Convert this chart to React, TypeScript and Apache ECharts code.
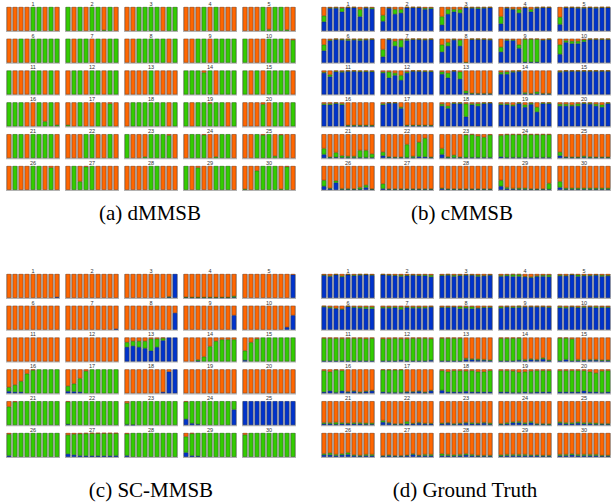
import React, { useEffect, useRef } from 'react';
import * as echarts from 'echarts';

// ---------- data ----------
const BARS = ['1', '2', '3', '4', '5', '6', '7', '8', '9'];
const SUB_LABELS = ['1','2','3','4','5','6','7','8','9','10','11','12','13','14','15','16','17','18','19','20','21','22','23','24','25','26','27','28','29','30'];
const CAPTIONS = ['(a) dMMSB', '(b) cMMSB', '(c) SC-MMSB', '(d) Ground Truth'];

// fractions per bar; stacking order bottom→top: blue, green, orange (orange = remainder)
// (a) dMMSB
const aBlue: number[][] = [];
const aGreen: number[][] = [
  [0,0,0,0,1,1,0,1,0],
  [1,0,1,0,1,1,0.03,1,0],
  [0,0,1,1,1,1,0,1,1],
  [0,0,0,1,0,1,0,0,0],
  [0,0,0,1,0.06,1,1,0.04,0],
  [0,0,1,0,1,1,1,1,1],
  [1,0,1,1,0,1,0,1,1],
  [0,0,1,1,1,1,1,0,1],
  [0,0,1,1,0,1,1,1,1],
  [1,0,0,0,1,1,1,0,0.95],
  [1,0,0,0,1,1,0,1,0],
  [0,1,1,0,1,1,0,1,1],
  [0,0,0,0,1,0,0,0,0],
  [1,1,1,0.92,1,0,1,1,1],
  [1,0,1,0,1,1,1,1,0],
  [1,1,1,0,0,1,0.2,1,0.05],
  [0.05,0,1,0,0,1,0,0.95,0],
  [0,1,1,1,1,1,1,0,1],
  [1,0,1,1,0.96,1,1,0,1],
  [0,0,0,0.92,0,1,1,0,1],
  [0,1,1,0,1,1,1,1,0],
  [0,0,0,1,1,0,0,1,0],
  [1,0,0,0.05,1,1,1,0.95,0],
  [0,1,1,0.97,0,0.05,1,1,0],
  [0,0,1,0.96,1,0.08,0.97,0,0],
  [0,1,0,0,1,1,0,0.93,0],
  [0,1,0.35,0.97,1,0,0,0,0],
  [0,0,0,0,1,1,0,0,0],
  [1,0,0.93,0,0,1,1,1,0],
  [0.03,0,0.8,1,1,1,0.03,0.97,0],
];

// (b) cMMSB
const bBlue: number[][] = [
  [0.38,0.95,0.95,0.8,0.97,0.97,0.6,0.96,0.92],
  [0.4,0.95,0.7,0.75,0.97,0.97,0.97,0.9,0.93],
  [0.25,0.7,0.8,0.75,0.97,0.95,0.93,0.95,0.97],
  [0.3,0.95,0.9,0.75,0.97,0.8,0.95,0.97,0.97],
  [0.27,0.97,0.97,0.95,0.95,0.97,0.95,0.97,0.97],
  [0.5,0.93,0.97,0.95,0.93,0.95,0.93,0.95,0.97],
  [0.25,0.97,0.7,0.65,0.93,0.97,0.97,0.95,0.97],
  [0.45,0.7,0.95,0.7,0,0.97,0.97,0.97,0.95],
  [0.45,0.93,0.93,0.6,0.02,0.02,0.02,0.95,0.97],
  [0.35,0.85,0.8,0.8,0.88,0.97,0.97,0.97,0.97],
  [0.9,0.75,0.95,0.93,0.97,0.97,0.95,0.95,0.95],
  [0.9,0.7,0.8,0.6,0.9,0.98,0.97,0.95,0.95],
  [0.85,0.7,0.98,0.65,0.05,0.02,0.02,0.02,0.02],
  [0.85,0.85,0.93,0.97,0.03,0.02,0.03,0.02,0.02],
  [0.93,0.98,0.98,0.98,0.98,0.98,0.98,0.98,0.98],
  [0.9,0.9,0.95,0.9,0.01,0.01,0.01,0.01,0.01],
  [0.9,0.97,0.97,0.75,0.02,0.02,0.02,0.02,0.02],
  [0.85,0.75,0.95,0.95,0.4,0.9,0.85,0.95,0.97],
  [0.9,0.9,0.85,0.95,0.8,0.92,0.6,0.95,0.95],
  [0.85,0.85,0.85,0.85,0.95,0.93,0.85,0.8,0.95],
  [0.15,0.02,0.03,0.02,0.02,0.02,0.02,0.02,0.02],
  [0.1,0.03,0.02,0.02,0.02,0.02,0.06,0.05,0.02],
  [0.15,0.02,0.02,0.02,0.02,0.02,0.02,0.02,0.02],
  [0.05,0.02,0.02,0.02,0.02,0.02,0.02,0.02,0.02],
  [0.1,0.03,0.02,0.02,0.03,0.02,0.02,0.02,0.02],
  [0.15,0.05,0.3,0.02,0.02,0.02,0.02,0.1,0.02],
  [0.05,0.02,0.02,0.02,0.02,0.02,0.02,0.02,0.02],
  [0.05,0.02,0.02,0.02,0.02,0.02,0.02,0.02,0.02],
  [0.15,0.05,0.03,0.02,0.02,0.02,0.02,0.02,0.02],
  [0.1,0.02,0.02,0.02,0.02,0.02,0.02,0.02,0.02],
];
const bGreen: number[][] = [
  [0.25,0.02,0.03,0.15,0.02,0.02,0.3,0.02,0.05],
  [0.25,0.02,0.2,0.15,0.02,0.02,0.02,0.05,0.04],
  [0.35,0.2,0.1,0.15,0.02,0.03,0.05,0.03,0.02],
  [0.3,0.02,0.02,0.15,0.02,0.1,0.03,0.02,0.02],
  [0.3,0.02,0.02,0.03,0.03,0.02,0.03,0.02,0.02],
  [0.25,0.03,0.02,0.03,0.05,0.03,0.05,0.03,0.02],
  [0.3,0.02,0.2,0.3,0.05,0.02,0.02,0.03,0.02],
  [0.3,0.15,0.03,0.25,0.01,0.02,0.02,0.02,0.03],
  [0.2,0.03,0.03,0.15,0.97,0.97,0.97,0.01,0.02],
  [0.4,0.08,0.1,0.1,0.08,0.02,0.02,0.02,0.02],
  [0.03,0.08,0.03,0.04,0.02,0.02,0.03,0.03,0.03],
  [0.05,0.25,0.1,0.2,0.05,0.01,0.02,0.03,0.03],
  [0.1,0.2,0.01,0.3,0.1,0.03,0.02,0.02,0.02],
  [0.08,0.1,0.04,0.02,0.05,0.02,0.08,0.02,0.02],
  [0.04,0.01,0.01,0.01,0.01,0.01,0.01,0.01,0.01],
  [0.05,0.05,0.03,0.05,0.03,0.03,0.03,0.03,0.03],
  [0.05,0.02,0.02,0.05,0.02,0.02,0.02,0.02,0.02],
  [0.08,0.1,0.03,0.03,0.55,0.05,0.1,0.03,0.02],
  [0.05,0.05,0.05,0.03,0.1,0.05,0.2,0.03,0.03],
  [0.08,0.08,0.05,0.1,0.03,0.04,0.08,0.1,0.03],
  [0.25,0.02,0.2,0.08,0.05,0.05,0.3,0.3,0.15],
  [0.15,0.02,0.02,0.02,0.55,0.05,0.6,0.78,0.02],
  [0.25,0.03,0.1,0.02,0.95,0.97,0.9,0.85,0.95],
  [0.9,0.97,0.97,0.97,0.97,0.97,0.97,0.97,0.97],
  [0.15,0.02,0.02,0.02,0.05,0.03,0.02,0.02,0.02],
  [0.25,0.02,0.08,0.03,0.03,0.02,0.08,0.1,0.02],
  [0.2,0.02,0.02,0.02,0.02,0.02,0.02,0.02,0.02],
  [0.02,0.02,0.02,0.02,0.02,0.02,0.02,0.02,0.02],
  [0.25,0.05,0.03,0.05,0.05,0.02,0.02,0.02,0.25],
  [0.25,0.05,0.05,0.05,0.05,0.05,0.05,0.05,0.05],
];

// (c) SC-MMSB
const cBlue: number[][] = [
  [0,0,0,0,0,0,0,0,0.03],
  [0,0,0,0,0,0,0,0,0],
  [0,0,0,0,0,0,0,0.03,1],
  [0.02,0.01,0.01,0.01,0.01,0.01,0.01,0.01,0.02],
  [0,0,0,0,0,0,0,0,0.97],
  [0,0,0,0,0,0,0,0,0],
  [0,0,0,0,0,0,0,0,0.03],
  [0,0,0,0,0,0,0,0,0.7],
  [0,0,0,0,0,0,0,0,0.6],
  [0,0,0,0,0,0,0,0.1,0.6],
  [0,0,0,0,0,0,0,0,0],
  [0,0,0,0,0,0,0,0,0],
  [0.6,0.65,0.6,0.55,0.45,0.6,0.88,1,1],
  [0,0,0.02,0,0,0,0,0,0],
  [0.05,0,0,0,0,0,0,0,0],
  [0.08,0.05,0.05,0,0,0,0,0,0],
  [0.08,0.07,0.05,0,0,0,0,0,0],
  [0,0,0,0,0,0,0.05,0.9,1],
  [0,0,0,0,0,0,0,0,0],
  [0,0,0,0,0,0,0,0,0],
  [0,0,0,0,0,0,0,0,0],
  [0.03,0,0,0,0,0,0,0,0],
  [0.02,0.01,0,0,0,0,0,0,0],
  [0.25,0.07,0.03,0,0,0,0,0,0.65],
  [1,1,1,1,1,1,1,1,1],
  [0.05,0,0,0,0,0,0,0,0],
  [0.12,0.08,0.05,0.04,0.04,0.04,0.04,0.04,0.05],
  [0.05,0,0,0,0,0,0,0,0],
  [0.18,0.05,0.03,0,0,0,0,0,0],
  [0,0,0,0,0,0,0,0,0],
];
const cGreen: number[][] = [
  [0,0,0,0,0,0,0,0,0],
  [0,0,0,0,0,0,0,0,0],
  [0,0,0,0,0,0,0,0.02,0],
  [0.01,0.01,0.01,0.01,0.01,0.01,0.01,0.01,0.05],
  [0,0,0,0,0,0,0,0,0],
  [0,0,0,0,0,0,0,0,0],
  [0,0,0,0,0,0,0,0,0],
  [0,0,0,0,0,0,0,0,0],
  [0,0,0,0,0,0,0,0,0],
  [0,0,0,0,0,0,0,0,0],
  [0,0,0,0,0,0,0,0,0],
  [0,0,0,0,0,0,0,0,0],
  [0.2,0.2,0.25,0.3,0.5,0.35,0.1,0,0],
  [0,0,0.05,0.2,0.63,0.85,0.92,0.92,0.92],
  [0.4,0.8,0.95,1,1,1,1,1,1],
  [0.17,0.3,0.45,0.82,0.97,1,1,1,1],
  [0.22,0.33,0.57,0.93,1,1,1,1,1],
  [0,0,0,0,0,0,0,0,0],
  [0,0,0,0,0,0,0,0,0],
  [0,0,0,0,0,0,0,0,0],
  [0.77,0.97,1,1,1,1,1,1,1],
  [0.95,1,1,1,1,1,1,1,1],
  [0.9,0.99,1,1,1,1,1,1,1],
  [0.73,0.93,0.97,1,1,1,1,1,0.35],
  [0,0,0,0,0,0,0,0,0],
  [0.9,1,1,1,1,1,1,1,1],
  [0.8,0.87,0.92,0.94,0.95,0.95,0.95,0.95,0.94],
  [0.92,1,1,1,1,1,1,1,1],
  [0.67,0.93,0.97,1,1,1,1,1,1],
  [0.93,1,1,1,1,1,1,1,1],
];

// (d) Ground Truth
const dBlue: number[][] = [
  [0.95,0.9,0.97,0.88,0.97,0.93,0.95,0.97,0.95],
  [0.97,0.95,0.93,0.9,0.93,0.95,0.93,0.93,0.88],
  [0.93,0.95,0.9,0.93,0.95,0.95,0.9,0.92,0.95],
  [0.9,0.92,0.9,0.9,0.88,0.85,0.9,0.9,0.88],
  [0.92,0.92,0.97,0.9,0.92,0.92,0.95,0.9,0.92],
  [0.95,0.9,0.88,0.85,0.97,0.93,0.9,0.88,0.88],
  [0.9,0.9,0.92,0.85,0.93,0.9,0.9,0.9,0.95],
  [0.93,0.93,0.95,0.88,0.9,0.88,0.9,0.92,0.93],
  [0.9,0.95,0.92,0.93,0.95,0.95,0.95,0.95,0.93],
  [0.92,0.9,0.95,0.92,0.93,0.95,0.92,0.93,0.93],
  [0.02,0.02,0.02,0.03,0.02,0.02,0.02,0.02,0.02],
  [0.02,0.02,0.02,0.05,0.02,0.02,0.02,0.02,0.05],
  [0.02,0.02,0.02,0.02,0.08,0.08,0.05,0.05,0.03],
  [0.02,0.02,0.02,0.05,0.03,0.08,0.05,0.1,0.03],
  [0.03,0.08,0.02,0.03,0.03,0.05,0.05,0.03,0.03],
  [0.05,0.1,0.03,0.1,0.05,0.08,0.03,0.07,0.1],
  [0.05,0.03,0.03,0.03,0.05,0.05,0.08,0.03,0.1],
  [0.12,0.05,0.05,0.05,0.08,0.05,0.05,0.05,0.05],
  [0.05,0.05,0.03,0.03,0.05,0.03,0.05,0.05,0.05],
  [0.05,0.05,0.05,0.05,0.1,0.05,0.05,0.03,0.05],
  [0.05,0.05,0.03,0.05,0.05,0.05,0.05,0.03,0.03],
  [0.12,0.08,0.03,0.03,0.05,0.05,0.08,0.05,0.05],
  [0.05,0.08,0.03,0.05,0.08,0.05,0.05,0.08,0.03],
  [0.03,0.05,0.1,0.1,0.05,0.1,0.03,0.03,0.02],
  [0.08,0.05,0.05,0.08,0.05,0.05,0.03,0.03,0.03],
  [0.08,0.08,0.05,0.08,0.1,0.05,0.03,0.05,0.05],
  [0.03,0.05,0.03,0.03,0.05,0.1,0.05,0.05,0.05],
  [0.05,0.05,0.03,0.05,0.08,0.05,0.03,0.03,0.03],
  [0.03,0.05,0.05,0.05,0.05,0.05,0.05,0.03,0.03],
  [0.05,0.05,0.08,0.05,0.05,0.05,0.05,0.03,0.03],
];
const dGreen: number[][] = [
  [0.01,0.03,0.01,0.04,0.01,0.03,0.03,0.01,0.02],
  [0.01,0.02,0.02,0.05,0.02,0.02,0.03,0.04,0.07],
  [0.03,0.03,0.05,0.03,0.02,0.02,0.05,0.02,0.02],
  [0.04,0.05,0.08,0.08,0.02,0.03,0.03,0.05,0.08],
  [0.04,0.02,0.01,0.07,0.03,0.03,0.02,0.05,0.03],
  [0.03,0.05,0.02,0.02,0.01,0.03,0.05,0.07,0.07],
  [0.05,0.05,0.04,0.1,0.03,0.05,0.05,0.05,0.02],
  [0.02,0.03,0.01,0.08,0.06,0.08,0.02,0.03,0.03],
  [0.06,0.02,0.04,0.05,0.02,0.02,0.02,0.02,0.03],
  [0.05,0.05,0.02,0.03,0.04,0.02,0.05,0.03,0.03],
  [0.95,0.95,0.95,0.93,0.95,0.95,0.95,0.93,0.95],
  [0.93,0.93,0.95,0.9,0.93,0.95,0.95,0.95,0.9],
  [0.95,0.95,0.95,0.95,0.05,0.03,0.05,0.03,0.03],
  [0.95,0.95,0.95,0.93,0.05,0.03,0.03,0.05,0.03],
  [0.95,0.9,0.92,0.05,0.03,0.03,0.03,0.03,0.03],
  [0.9,0.8,0.95,0.85,0.02,0.02,0.02,0.02,0.02],
  [0.93,0.95,0.95,0.95,0.02,0.02,0.02,0.02,0.02],
  [0.83,0.85,0.9,0.9,0.85,0.9,0.85,0.85,0.9],
  [0.9,0.9,0.9,0.85,0.85,0.9,0.9,0.9,0.9],
  [0.9,0.9,0.9,0.9,0.85,0.85,0.8,0.9,0.9],
  [0.05,0.05,0.08,0.05,0.03,0.05,0.05,0.05,0.05],
  [0.07,0.03,0.02,0.03,0.1,0.02,0.03,0.02,0.02],
  [0.03,0.02,0.03,0.03,0.03,0.05,0.03,0.03,0.05],
  [0.03,0.05,0.03,0.05,0.05,0.05,0.03,0.03,0.03],
  [0.05,0.05,0.05,0.05,0.05,0.05,0.05,0.03,0.03],
  [0.05,0.08,0.05,0.05,0.08,0.03,0.03,0.05,0.05],
  [0.02,0.03,0.02,0.02,0.02,0.03,0.02,0.05,0.05],
  [0.08,0.05,0.05,0.05,0.05,0.05,0.03,0.03,0.03],
  [0.05,0.05,0.05,0.05,0.05,0.03,0.03,0.03,0.03],
  [0.05,0.05,0.05,0.05,0.05,0.05,0.05,0.03,0.03],
];

// ---------- styling / layout ----------
const COLORS: Record<string, string> = { blue: '#0033CC', green: '#33CC00', orange: '#FF6600' };
const EDGES: Record<string, string> = { blue: '#00207a', green: '#1e7800', orange: '#9a3c00' };
const GAP_GRAY = '#b4b4b4';
const SUB_W = 54;
const SUB_H = 25;
const COL_PITCH = 59;
const ROW_PITCH = 31.8;

const PANELS = [
  { blue: aBlue, green: aGreen, x0: 6, y0: 7, cx: 150, cy: 213 },
  { blue: bBlue, green: bGreen, x0: 321, y0: 7, cx: 462, cy: 213 },
  { blue: cBlue, green: cGreen, x0: 6, y0: 274, cx: 151, cy: 490 },
  { blue: dBlue, green: dGreen, x0: 321, y0: 274, cx: 465, cy: 490 },
];

function nz(v: number) {
  return v > 0 ? v : null;
}

export default function App() {
  const ref = useRef<HTMLDivElement>(null);
  useEffect(() => {
    if (!ref.current) return;
    document.body.style.margin = '0';
    const chart = echarts.init(ref.current, undefined, { renderer: 'svg' });
    const grid: any[] = [];
    const xAxis: any[] = [];
    const yAxis: any[] = [];
    const series: any[] = [];
    const graphic: any[] = [];

    PANELS.forEach((p, pi) => {
      for (let k = 0; k < 30; k++) {
        const r = Math.floor(k / 5);
        const c = k % 5;
        const left = p.x0 + c * COL_PITCH;
        const top = p.y0 + r * ROW_PITCH;
        const idx = grid.length;
        grid.push({ left, top, width: SUB_W, height: SUB_H, show: true, backgroundColor: GAP_GRAY, borderWidth: 0 });
        xAxis.push({ type: 'category', gridIndex: idx, data: BARS, show: false, boundaryGap: true });
        yAxis.push({ type: 'value', gridIndex: idx, min: -0.05, max: 1, show: false });
        const b = BARS.map((_, j) => (p.blue[k] ? p.blue[k][j] : 0));
        const g = BARS.map((_, j) => p.green[k][j]);
        const o = BARS.map((_, j) => Math.max(0, 1 - b[j] - g[j]));
        const parts: [string, number[]][] = [['blue', b], ['green', g], ['orange', o]];
        parts.forEach(([name, vals]) => {
          series.push({
            type: 'bar',
            name: name + idx,
            xAxisIndex: idx,
            yAxisIndex: idx,
            stack: 'st' + idx,
            data: vals.map(nz),
            barCategoryGap: '28%',
            silent: true,
            itemStyle: { color: COLORS[name], borderColor: EDGES[name], borderWidth: 0.5 },
          });
        });
        graphic.push({
          type: 'text',
          x: left + SUB_W / 2,
          y: top - 3.3,
          style: {
            text: SUB_LABELS[k],
            fontSize: 5.5,
            fontFamily: 'Liberation Sans',
            fill: '#333',
            align: 'center',
            verticalAlign: 'middle',
          },
        });
      }
      graphic.push({
        type: 'text',
        x: p.cx,
        y: p.cy,
        style: {
          text: CAPTIONS[pi],
          fontSize: 21,
          fontFamily: 'Liberation Serif',
          fill: '#000',
          align: 'center',
          verticalAlign: 'middle',
        },
      });
    });

    chart.setOption({
      animation: false,
      backgroundColor: '#ffffff',
      grid,
      xAxis,
      yAxis,
      series,
      graphic,
      tooltip: { show: false },
    });
    return () => chart.dispose();
  }, []);

  return (
    <div
      ref={ref}
      style={{ position: 'absolute', left: 0, top: 0, width: 611, height: 504, background: '#fff' }}
    />
  );
}
